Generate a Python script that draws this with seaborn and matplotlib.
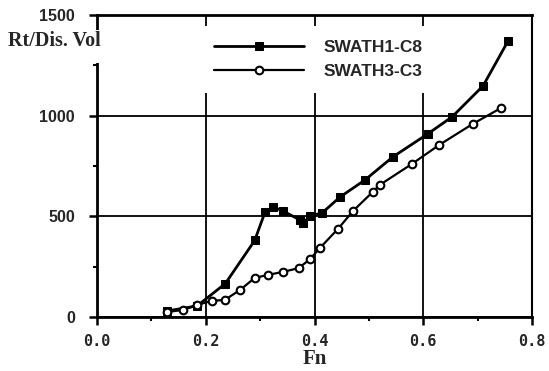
import matplotlib
matplotlib.use("Agg")
import matplotlib.pyplot as plt
from matplotlib.patches import Rectangle
from matplotlib.ticker import MultipleLocator
import seaborn as sns
import pandas as pd

# Resistance per displaced volume vs Froude number
fn_c8 = [0.129, 0.184, 0.236, 0.290, 0.309, 0.324, 0.342, 0.373, 0.379, 0.392,
         0.414, 0.447, 0.493, 0.544, 0.608, 0.653, 0.710, 0.756]
rt_c8 = [30, 55, 166, 380, 521, 546, 527, 482, 467, 502,
         517, 596, 681, 795, 909, 994, 1148, 1371]

fn_c3 = [0.129, 0.158, 0.184, 0.211, 0.235, 0.263, 0.290, 0.314, 0.342, 0.371,
         0.392, 0.410, 0.443, 0.471, 0.507, 0.520, 0.579, 0.629, 0.691, 0.743]
rt_c3 = [25, 35, 60, 80, 85, 134, 194, 209, 224, 243,
         288, 343, 437, 527, 621, 656, 760, 854, 959, 1038]

series_names = ["SWATH1-C8", "SWATH3-C3"]
x_ticks = [0.0, 0.2, 0.4, 0.6, 0.8]
y_ticks = [0, 500, 1000, 1500]

df_c8 = pd.DataFrame({"Fn": fn_c8, "Rt": rt_c8})
df_c3 = pd.DataFrame({"Fn": fn_c3, "Rt": rt_c3})

sns.set_style("ticks")
plt.rcParams["font.family"] = ["Liberation Sans", "DejaVu Sans"]

fig = plt.figure(figsize=(5.49, 3.71), dpi=100)
ax = fig.add_axes([97 / 549, 1 - 317 / 371, 435 / 549, 302 / 371])

sns.lineplot(data=df_c8, x="Fn", y="Rt", ax=ax, sort=False, color="black",
             lw=2.0, marker="s", markersize=6, markerfacecolor="black",
             markeredgecolor="black", label=series_names[0], zorder=4)
sns.lineplot(data=df_c3, x="Fn", y="Rt", ax=ax, sort=False, color="black",
             lw=1.6, marker="o", markersize=5.5, markerfacecolor="white",
             markeredgecolor="black", markeredgewidth=1.5,
             label=series_names[1], zorder=5)

ax.set_xlim(0, 0.8)
ax.set_ylim(0, 1500)
ax.set_xticks(x_ticks)
ax.set_xticklabels([f"{v:.1f}" for v in x_ticks],
                   fontfamily="DejaVu Sans Mono", fontweight="bold", fontsize=11)
ax.set_yticks(y_ticks)
ax.set_yticklabels([str(v) for v in y_ticks], fontweight="bold", fontsize=11.5)
ax.xaxis.set_minor_locator(MultipleLocator(0.1))
ax.yaxis.set_minor_locator(MultipleLocator(250))

ax.grid(True, which="major", color="black", lw=1.3)
ax.set_axisbelow(True)
for side in ["left", "right", "top", "bottom"]:
    ax.spines[side].set_visible(True)
    ax.spines[side].set_color("black")
    ax.spines[side].set_linewidth(2.0)
ax.spines["right"].set_linewidth(1.5)

ax.tick_params(axis="both", which="major", direction="out", length=6,
               width=1.8, color="black")
ax.tick_params(axis="both", which="minor", direction="out", length=3,
               width=1.5, color="black")
ax.tick_params(axis="x", which="major", pad=6)
ax.tick_params(axis="y", which="major", pad=10)

ax.set_xlabel("Fn", fontfamily="Liberation Serif", fontweight="bold",
              fontsize=15, labelpad=0)
ax.set_ylabel("")

# white break in the left spine behind the axis title
ax.add_patch(Rectangle((-0.02, 0.84), 0.04, 0.11, transform=ax.transAxes,
                       facecolor="white", edgecolor="none", zorder=3,
                       clip_on=False))
# axis title placed horizontally at the top-left corner
ax.text(-0.205, 0.915, "Rt/Dis. Vol", transform=ax.transAxes,
        fontfamily="Liberation Serif", fontweight="bold", fontsize=14.5,
        ha="left", va="center", zorder=10, clip_on=False)

leg = ax.legend(loc="upper left", bbox_to_anchor=(0.237, 0.964),
                borderaxespad=0, frameon=True, fancybox=False,
                facecolor="white", edgecolor="none", framealpha=1,
                handlelength=5.2, handletextpad=1.1, labelspacing=0.5,
                borderpad=0.8, numpoints=1,
                prop={"family": "Liberation Sans", "weight": "bold", "size": 12.5})
leg.set_zorder(6)

fig.savefig("out.png", dpi=100)
